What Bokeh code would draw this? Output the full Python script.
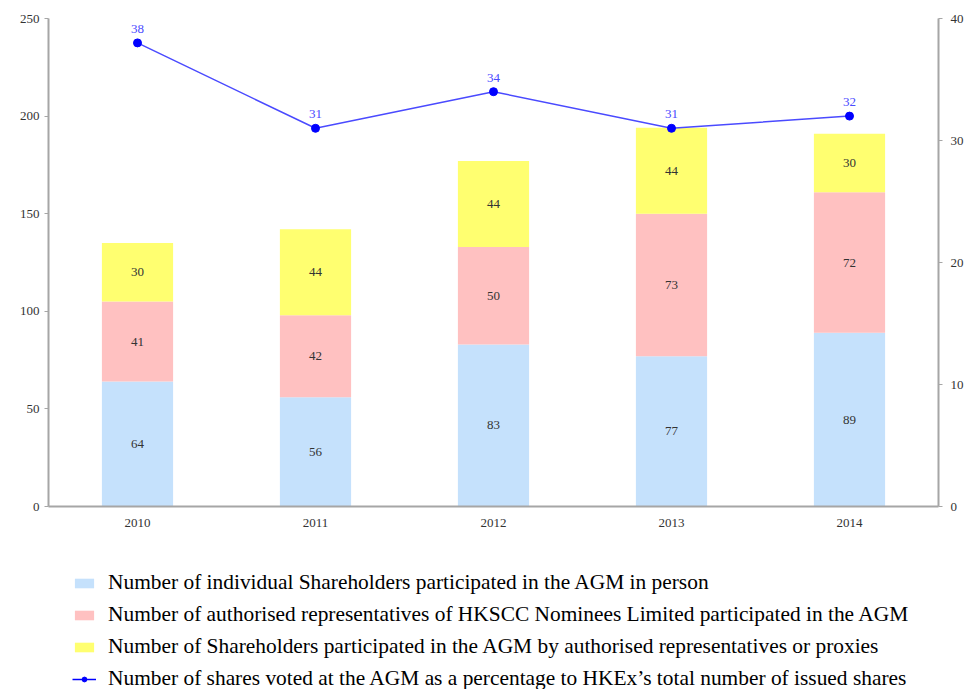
from bokeh.plotting import figure
from bokeh.layouts import column
from bokeh.models import (ColumnDataSource, FactorRange, Range1d, LinearAxis, FixedTicker,
                          Legend, LegendItem)
from bokeh.core.properties import value
from bokeh.embed import file_html
from bokeh.resources import INLINE

years = ["2010", "2011", "2012", "2013", "2014"]
individual = [64, 56, 83, 77, 89]
hkscc = [41, 42, 50, 73, 72]
proxies = [30, 44, 44, 44, 30]
pct_voted = [38, 31, 34, 31, 32]

left_ticks = [0, 50, 100, 150, 200, 250]
right_ticks = [0, 10, 20, 30, 40]

names = [
    "Number of individual Shareholders participated in the AGM in person",
    "Number of authorised representatives of HKSCC Nominees Limited participated in the AGM",
    "Number of Shareholders participated in the AGM by authorised representatives or proxies",
    "Number of shares voted at the AGM as a percentage to HKEx\u2019s total number of issued shares",
]
colors = ["#C5E1FC", "#FFC1C1", "#FFFF70"]
LINE_COLOR = "#4A4AFF"
DOT_COLOR = "#0000FF"
FONT = "Liberation Serif"

src = ColumnDataSource(dict(years=years, individual=individual, hkscc=hkscc, proxies=proxies))

p = figure(x_range=FactorRange(*years, range_padding=0), y_range=Range1d(0, 250),
           width=966, height=536, output_backend="svg", toolbar_location=None,
           min_border_left=48, min_border_top=18, min_border_right=28, min_border_bottom=30)
p.outline_line_color = None
p.xgrid.grid_line_color = None
p.ygrid.grid_line_color = None
p.extra_y_ranges = {"pct": Range1d(0, 40)}

stack_keys = ["individual", "hkscc", "proxies"]
p.vbar_stack(stack_keys, x="years", width=0.4, color=colors, line_color=None, source=src)

# segment labels
lx, ly, lt = [], [], []
for i, y in enumerate(years):
    b = 0
    for arr in (individual, hkscc, proxies):
        lx.append(y)
        ly.append(b + arr[i] / 2)
        lt.append(str(arr[i]))
        b += arr[i]
p.text(x=lx, y=ly, text=lt, text_align="center", text_baseline="middle",
       text_font=value(FONT), text_font_size="13px", text_color="#333333")

p.line(years, pct_voted, y_range_name="pct", line_color=LINE_COLOR, line_width=1.5)
p.scatter(years, pct_voted, y_range_name="pct", size=8, color=DOT_COLOR)
p.text(x=years, y=pct_voted, text=[str(v) for v in pct_voted], y_range_name="pct",
       text_align="center", text_baseline="bottom", y_offset=-10,
       text_font=value(FONT), text_font_size="13px", text_color=LINE_COLOR)

# axes
p.yaxis[0].ticker = FixedTicker(ticks=left_ticks)
ax_r = LinearAxis(y_range_name="pct", ticker=FixedTicker(ticks=right_ticks))
p.add_layout(ax_r, "right")
for ax in [p.yaxis[0], ax_r, p.xaxis[0]]:
    ax.axis_line_color = "#A6A6A6"
    ax.axis_line_width = 2
    ax.major_tick_line_color = "#A6A6A6"
    ax.major_tick_out = 4
    ax.major_tick_in = 0
    ax.minor_tick_line_color = None
    ax.major_label_text_font = FONT
    ax.major_label_text_font_size = "13px"
    ax.major_label_text_color = "#333333"
    ax.major_label_standoff = 5
ax_r.major_label_standoff = 8
p.xaxis[0].major_tick_line_color = None
p.xaxis[0].major_label_standoff = 8

# legend figure
lg = figure(x_range=Range1d(0, 1), y_range=Range1d(0, 1), width=966, height=153,
            output_backend="svg", toolbar_location=None,
            min_border_left=48, min_border_right=28, min_border_top=0, min_border_bottom=0)
lg.axis.visible = False
lg.grid.visible = False
lg.outline_line_color = None
r0 = lg.rect(x=[-5], y=[-5], width=1, height=1, color=colors[0], line_color=None)
r1 = lg.rect(x=[-5], y=[-5], width=1, height=1, color=colors[1], line_color=None)
r2 = lg.rect(x=[-5], y=[-5], width=1, height=1, color=colors[2], line_color=None)
rl = lg.line(x=[-5, -6], y=[-5, -6], line_color="#0000FF", line_width=1.5)
rp = lg.scatter(x=[-5], y=[-5], size=10, color=DOT_COLOR)

legend = Legend(items=[
    LegendItem(label=names[0], renderers=[r0]),
    LegendItem(label=names[1], renderers=[r1]),
    LegendItem(label=names[2], renderers=[r2]),
    LegendItem(label=names[3], renderers=[rl, rp]),
], location=(24, -2), orientation="vertical", margin=0, padding=0,
    spacing=7, label_height=20, glyph_height=12, glyph_width=24, label_standoff=12,
    label_text_font=FONT, label_text_font_size="21.4px", label_text_color="#000000",
    border_line_color=None, background_fill_alpha=0)
lg.add_layout(legend, "center")

page = column(p, lg, spacing=0)
open("out.html", "w").write(file_html(page, INLINE))
